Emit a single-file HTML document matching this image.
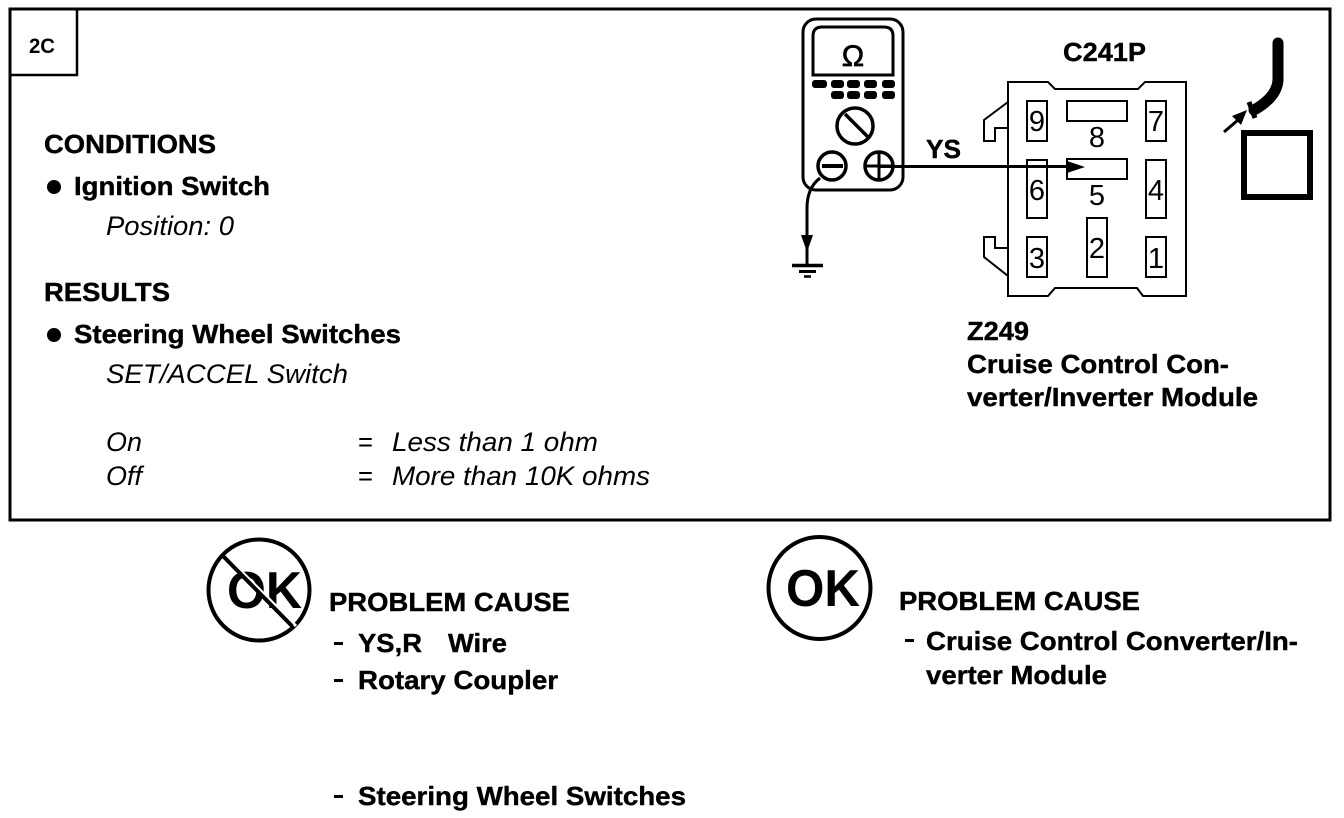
<!DOCTYPE html>
<html><head><meta charset="utf-8"><style>
html,body{margin:0;padding:0;background:#fff}
svg{display:block}
text{font-family:"Liberation Sans",sans-serif;fill:#000}
.b{font-weight:bold;font-size:26px;stroke:#000;stroke-width:.4px}
.i{font-style:italic;font-size:27px}
.d{font-size:29px;text-anchor:middle}
.l{fill:none;stroke:#000;stroke-width:2}
</style></head><body>
<svg width="1344" height="818" viewBox="0 0 1344 818" xmlns="http://www.w3.org/2000/svg">
<rect x="10" y="9" width="1320" height="511" fill="none" stroke="#000" stroke-width="3"/>
<path d="M10 75H77V9" fill="none" stroke="#000" stroke-width="2.5"/>
<text x="29" y="53" font-size="21" font-weight="bold" textLength="26" lengthAdjust="spacingAndGlyphs">2C</text>

<text class="b" x="44" y="153" textLength="172" lengthAdjust="spacingAndGlyphs">CONDITIONS</text>
<circle cx="54" cy="187" r="7"/>
<text class="b" x="74" y="195" textLength="196" lengthAdjust="spacingAndGlyphs">Ignition Switch</text>
<text class="i" x="106" y="235" textLength="128" lengthAdjust="spacingAndGlyphs">Position: 0</text>
<text class="b" x="44" y="301" textLength="126" lengthAdjust="spacingAndGlyphs">RESULTS</text>
<circle cx="54" cy="335" r="7"/>
<text class="b" x="74" y="343" textLength="327" lengthAdjust="spacingAndGlyphs">Steering Wheel Switches</text>
<text class="i" x="106" y="383" textLength="242" lengthAdjust="spacingAndGlyphs">SET/ACCEL Switch</text>
<text class="i" x="106" y="451" textLength="36" lengthAdjust="spacingAndGlyphs">On</text>
<text class="i" x="106" y="485" textLength="36" lengthAdjust="spacingAndGlyphs">Off</text>
<text class="i" x="358" y="451" style="font-style:normal" textLength="15" lengthAdjust="spacingAndGlyphs">=</text>
<text class="i" x="358" y="485" style="font-style:normal" textLength="15" lengthAdjust="spacingAndGlyphs">=</text>
<text class="i" x="392" y="451" textLength="206" lengthAdjust="spacingAndGlyphs">Less than 1 ohm</text>
<text class="i" x="392" y="485" textLength="258" lengthAdjust="spacingAndGlyphs">More than 10K ohms</text>

<!-- meter -->
<rect x="803" y="19" width="100" height="171" rx="13" fill="none" stroke="#000" stroke-width="3"/>
<path d="M813 75V36Q813 27 822 27H884Q893 27 893 36V75Z" fill="none" stroke="#000" stroke-width="3"/>
<text x="853" y="66" font-size="30" text-anchor="middle" stroke="#000" stroke-width=".7">Ω</text>
<g>
<rect x="812" y="80" width="15" height="8" rx="3"/><rect x="831" y="80" width="13" height="8" rx="3"/><rect x="847" y="80" width="13" height="8" rx="3"/><rect x="864" y="80" width="13" height="8" rx="3"/><rect x="882" y="80" width="13" height="8" rx="3"/>
<rect x="831" y="91" width="13" height="8" rx="3"/><rect x="847" y="91" width="13" height="8" rx="3"/><rect x="864" y="91" width="13" height="8" rx="3"/><rect x="882" y="91" width="13" height="8" rx="3"/>
</g>
<circle cx="855" cy="126" r="18" fill="none" stroke="#000" stroke-width="3.500"/>
<path d="M845 114L868 137" stroke="#000" stroke-width="3.500"/>
<circle cx="832" cy="166" r="14" fill="#fff" stroke="#000" stroke-width="3.500"/>
<path d="M822 166H843" stroke="#000" stroke-width="4"/>
<circle cx="879" cy="166" r="14" fill="#fff" stroke="#000" stroke-width="3.500"/>
<path d="M865 166H893M879 152V180" stroke="#000" stroke-width="3"/>
<text class="b" x="926" y="158" textLength="35" lengthAdjust="spacingAndGlyphs">YS</text>
<path d="M879 166.500H1075" stroke="#000" stroke-width="3"/>
<path d="M820 178Q807 188 807 208V265" fill="none" stroke="#000" stroke-width="3"/>
<path d="M801 235H813L807 252Z"/>
<path d="M792 265.500H823" stroke="#000" stroke-width="3.500"/>
<path d="M799 271.500H816" stroke="#000" stroke-width="3"/>
<path d="M804 276.500H811" stroke="#000" stroke-width="2.500"/>

<!-- connector -->
<text class="b" x="1063" y="61" textLength="83" lengthAdjust="spacingAndGlyphs">C241P</text>
<path class="l" d="M1008 82H1048L1055 89H1138L1145 82H1186V296H1143L1137 288H1055L1048 296H1008Z"/>
<path class="l" d="M1008 102L984 120V141H995V128H1008"/>
<path class="l" d="M1008 248H995V237H984V257L1008 276"/>
<g class="l">
<rect x="1027" y="101" width="20" height="40"/>
<rect x="1146" y="101" width="20" height="40"/>
<rect x="1067" y="101" width="60" height="20"/>
<rect x="1067" y="159" width="60" height="20"/>
<rect x="1027" y="160" width="20" height="58"/>
<rect x="1146" y="160" width="20" height="58"/>
<rect x="1087" y="218" width="20" height="59"/>
<rect x="1027" y="237" width="20" height="40"/>
<rect x="1146" y="237" width="20" height="40"/>
</g>
<text class="d" x="1037" y="131">9</text>
<text class="d" x="1156" y="131">7</text>
<text class="d" x="1097" y="147">8</text>
<text class="d" x="1097" y="205">5</text>
<text class="d" x="1037" y="200">6</text>
<text class="d" x="1156" y="200">4</text>
<text class="d" x="1097" y="258">2</text>
<text class="d" x="1037" y="268">3</text>
<text class="d" x="1156" y="268">1</text>
<path d="M1067 161L1085 167L1067 173Z"/>

<!-- harness -->
<path d="M1278 43V80Q1277 97 1254 110" fill="none" stroke="#000" stroke-width="11" stroke-linecap="round"/>
<path d="M1249 102L1255 118" stroke="#000" stroke-width="5"/>
<path d="M1224 132L1238 120" stroke="#000" stroke-width="3"/>
<path d="M1232 116L1247 110L1241 125Z"/>
<rect x="1244" y="133" width="66" height="64" fill="none" stroke="#000" stroke-width="6"/>

<text class="b" x="967" y="340" textLength="62" lengthAdjust="spacingAndGlyphs">Z249</text>
<text class="b" x="967" y="373" textLength="262" lengthAdjust="spacingAndGlyphs">Cruise Control Con-</text>
<text class="b" x="967" y="406" textLength="291" lengthAdjust="spacingAndGlyphs">verter/Inverter Module</text>

<!-- not OK -->
<circle cx="259" cy="590" r="50.500" fill="none" stroke="#000" stroke-width="4"/>
<text x="227" y="608" font-size="52" font-weight="bold" textLength="75" lengthAdjust="spacingAndGlyphs">OK</text>
<path d="M226 556L296 626" stroke="#fff" stroke-width="3"/>
<path d="M223 556L292 626" stroke="#000" stroke-width="4"/>
<text class="b" x="329" y="611" textLength="241" lengthAdjust="spacingAndGlyphs">PROBLEM CAUSE</text>
<rect x="334" y="642" width="9" height="3"/>
<text class="b" x="358" y="652" textLength="64" lengthAdjust="spacingAndGlyphs">YS,R</text>
<text class="b" x="448" y="652" textLength="59" lengthAdjust="spacingAndGlyphs">Wire</text>
<rect x="334" y="679" width="9" height="3"/>
<text class="b" x="358" y="689" textLength="200" lengthAdjust="spacingAndGlyphs">Rotary Coupler</text>
<rect x="334" y="795" width="9" height="3"/>
<text class="b" x="358" y="805" textLength="328" lengthAdjust="spacingAndGlyphs">Steering Wheel Switches</text>

<!-- OK -->
<circle cx="819.500" cy="588" r="51" fill="none" stroke="#000" stroke-width="4"/>
<text x="786" y="606" font-size="52" font-weight="bold" textLength="74" lengthAdjust="spacingAndGlyphs">OK</text>
<text class="b" x="899" y="610" textLength="241" lengthAdjust="spacingAndGlyphs">PROBLEM CAUSE</text>
<rect x="905" y="639" width="9" height="3"/>
<text class="b" x="926" y="650" textLength="372" lengthAdjust="spacingAndGlyphs">Cruise Control Converter/In-</text>
<text class="b" x="926" y="684" textLength="181" lengthAdjust="spacingAndGlyphs">verter Module</text>
</svg>
</body></html>
